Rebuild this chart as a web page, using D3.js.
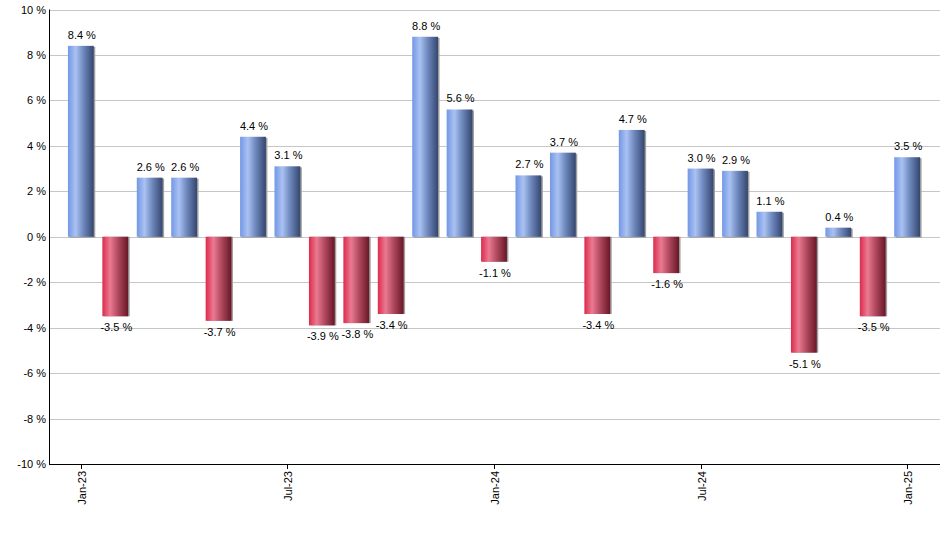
<!DOCTYPE html>
<html>
<head>
<meta charset="utf-8">
<script src="https://cdn.jsdelivr.net/npm/d3@7"></script>
<style>
  body { margin:0; background:#fff; }
  text { font-family: Arial, "Liberation Sans", sans-serif; }
</style>
</head>
<body>
<svg id="viz" width="940" height="550"></svg>
<script>
const months = ['Jan-23','Feb-23','Mar-23','Apr-23','May-23','Jun-23','Jul-23','Aug-23','Sep-23','Oct-23','Nov-23','Dec-23',
  'Jan-24','Feb-24','Mar-24','Apr-24','May-24','Jun-24','Jul-24','Aug-24','Sep-24','Oct-24','Nov-24','Dec-24','Jan-25']
const returns = [8.4,-3.5,2.6,2.6,-3.7,4.4,3.1,-3.9,-3.8,-3.4,8.8,5.6,-1.1,2.7,3.7,-3.4,4.7,-1.6,3.0,2.9,1.1,-5.1,0.4,-3.5,3.5]
const yTicks = [-10,-8,-6,-4,-2,0,2,4,6,8,10]
const xTickLabels = ['Jan-23','Jul-23','Jan-24','Jul-24','Jan-25']

const MARGIN = { top:9.5, bottom:86, left:49, right:1 }
const svg = d3.select('svg#viz')
const width = +svg.attr('width')
const height = +svg.attr('height')

const x = d3.scaleBand().domain(months)
  .range([MARGIN.left, width - MARGIN.right])
  .paddingInner(0.25).paddingOuter(0.55)
const y = d3.scaleLinear().domain([-10, 10]).range([height - MARGIN.bottom, MARGIN.top])

const defs = svg.append('defs')
function grad(id, stops) {
  const g = defs.append('linearGradient').attr('id', id)
    .attr('x1','0%').attr('x2','100%').attr('y1','0%').attr('y2','0%')
  stops.forEach(s => g.append('stop').attr('offset', s[0]).attr('stop-color', s[1]))
}
grad('blue', [['0%','#7397e6'],['30%','#aac2f2'],['60%','#6e88bd'],['100%','#34466e']])
grad('red', [['0%','#dc2a4c'],['30%','#ea7a91'],['60%','#b24a60'],['100%','#681626']])

// grid
svg.append('g').selectAll('line')
  .data(yTicks)
  .join('line')
  .attr('x1', MARGIN.left).attr('x2', width)
  .attr('y1', d => Math.round(y(d)) + 0.5).attr('y2', d => Math.round(y(d)) + 0.5)
  .attr('stroke', '#c6c6c6')

// y labels
svg.append('g').selectAll('text')
  .data(yTicks)
  .join('text')
  .attr('x', MARGIN.left - 3)
  .attr('y', d => y(d) + 4)
  .attr('text-anchor', 'end')
  .attr('font-size', 11)
  .text(d => d + ' %')

const bars = svg.append('g')
const y0 = y(0)

// shadows
bars.selectAll('rect.shadow')
  .data(returns)
  .join('rect')
  .attr('class', 'shadow')
  .attr('x', (d, i) => x(months[i]) + 1.5)
  .attr('width', x.bandwidth())
  .attr('y', d => d >= 0 ? y(d) + 1 : y0)
  .attr('height', d => Math.abs(y(d) - y0))
  .attr('fill', '#a0a0a0')

bars.selectAll('rect.bar')
  .data(returns)
  .join('rect')
  .attr('class', 'bar')
  .attr('x', (d, i) => x(months[i]))
  .attr('width', x.bandwidth())
  .attr('y', d => d >= 0 ? y(d) : y0)
  .attr('height', d => Math.abs(y(d) - y0))
  .attr('fill', d => d >= 0 ? 'url(#blue)' : 'url(#red)')

bars.selectAll('text')
  .data(returns)
  .join('text')
  .attr('x', (d, i) => x(months[i]) + x.bandwidth() / 2 + 1)
  .attr('y', d => d >= 0 ? y(d) - 7 : y(d) + 15)
  .attr('text-anchor', 'middle')
  .attr('font-size', 11)
  .text(d => d.toFixed(1) + ' %')

// axes lines
svg.append('line')
  .attr('x1', MARGIN.left + 0.5).attr('x2', MARGIN.left + 0.5)
  .attr('y1', MARGIN.top).attr('y2', y(-10))
  .attr('stroke', '#000')
svg.append('line')
  .attr('x1', MARGIN.left).attr('x2', width)
  .attr('y1', Math.round(y(-10)) + 0.5).attr('y2', Math.round(y(-10)) + 0.5)
  .attr('stroke', '#000')

const xt = svg.append('g').selectAll('g')
  .data(xTickLabels)
  .join('g')
  .attr('transform', d => `translate(${Math.round(x(d) + x.bandwidth() / 2) + 0.5}, ${Math.round(y(-10))})`)
xt.append('line').attr('y1', 0).attr('y2', 5).attr('stroke', '#000')
xt.append('text')
  .attr('transform', 'rotate(-90)')
  .attr('x', -7).attr('y', 4)
  .attr('text-anchor', 'end')
  .attr('font-size', 11)
  .text(d => d)
</script>
</body>
</html>
